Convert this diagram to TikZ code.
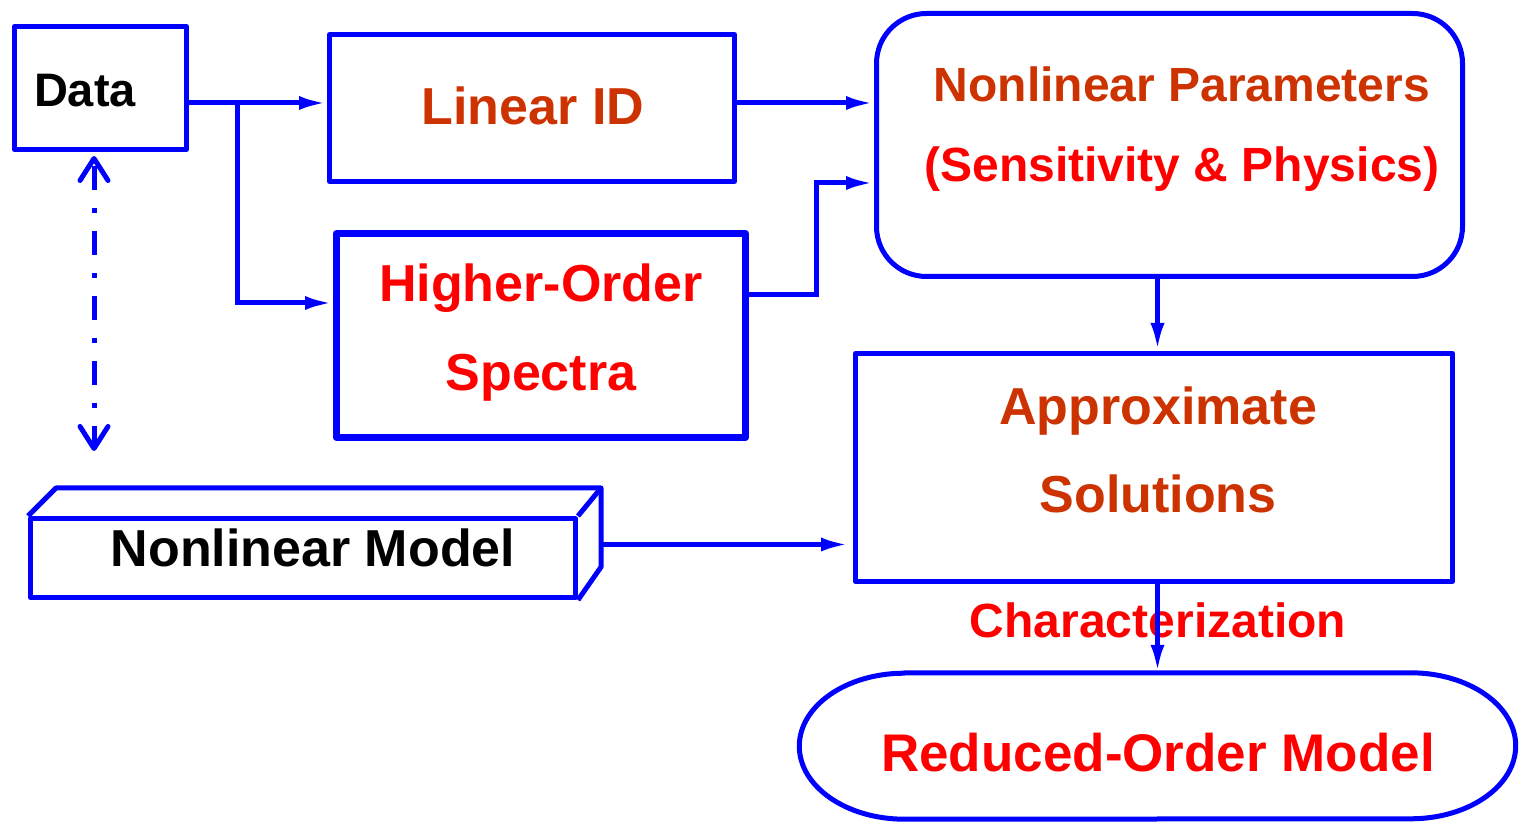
\documentclass[tikz,border=0pt]{standalone}
\usepackage{fontspec}
\setmainfont{Liberation Sans}
\usetikzlibrary{arrows.meta, calc}
\definecolor{flowblue}{RGB}{0,0,255}
\definecolor{rust}{RGB}{204,51,0}
\definecolor{brightred}{RGB}{255,0,0}
\newcommand{\fs}[1]{\fontsize{#1pt}{#1pt}\selectfont}
\tikzset{
  blkbox/.style={draw=flowblue, line width=5pt, inner sep=0pt, line join=round},
  outline/.style={draw=flowblue, line width=5pt, line join=round},
  flow/.style={draw=flowblue, line width=5pt, -{Latex[length=28pt,width=14pt]}},
  dashflow/.style={draw=flowblue, line width=5pt, dash pattern=on 24pt off 18pt on 5pt off 18pt, dash phase=60pt,
    {Straight Barb[length=22pt,width=28pt,round]}-{Straight Barb[length=22pt,width=28pt,round]}},
  lbl/.style={inner sep=0pt, anchor=base, font=\bfseries}
}
\begin{document}
\begin{tikzpicture}[x=1pt,y=1pt]
			\useasboundingbox (0,0) rectangle (1521,822);
			% boxes
			\node[blkbox, minimum width=172pt, minimum height=123pt] (data) at (100.5,734) {};
			\node[blkbox, minimum width=405pt, minimum height=147pt] (linid) at (532,714) {};
			\node[blkbox, line width=7pt, minimum width=409pt, minimum height=204pt] (hos) at (541,486.5) {};
			\node[blkbox, rounded corners=50pt, minimum width=586pt, minimum height=263pt] (nlp) at (1169.5,677) {};
			\node[blkbox, minimum width=597pt, minimum height=228pt] (approx) at (1154,354.5) {};
			\node[blkbox, minimum width=545pt, minimum height=79pt] (nm) at (303,264) {};
			\node[inner sep=0pt, minimum width=716pt, minimum height=146pt] (rom) at (1157.5,76) {};
			% depth of the model box
			\draw[outline] (nm.north west) -- ++(28,28) -- ++(545,0) coordinate (nmback) -- ++(0,-79) -- (nm.south east);
			\draw[outline] (nm.north east) -- (nmback);
			% stadium round the reduced model
			\draw[outline] ([xshift=105pt]rom.north west) -- ([xshift=-105pt]rom.north east)
				arc[start angle=90, end angle=-90, x radius=105, y radius=73]
				-- ([xshift=105pt]rom.south west)
				arc[start angle=270, end angle=90, x radius=105, y radius=73] -- cycle;
			% texts
			\node[lbl] (datalbl) at (85,715) {\fs{47}Data};
			\node[lbl, text=rust] (linidlbl) at (533,697) {\fs{52}Linear ID};
			\node[lbl, text=brightred] (hoslbla) at (541,520) {\fs{52}Higher-Order};
			\node[lbl, text=brightred] (hoslblb) at (541,431) {\fs{52}Spectra};
			\node[lbl, text=rust] (nlplbla) at (1182,720) {\fs{48}Nonlinear Parameters};
			\node[lbl, text=brightred] (nlplblb) at (1182,640) {\fs{48}(Sensitivity \& Physics)};
			\node[lbl, text=rust] (approxlbla) at (1158,397) {\fs{52}Approximate};
			\node[lbl, text=rust] (approxlblb) at (1158,309) {\fs{52}Solutions};
			\node[lbl] (nmlbl) at (313,255) {\fs{52}Nonlinear Model};
			\node[lbl, text=brightred] (charlbl) at (1158,184) {\fs{48}Characterization};
			\node[lbl, text=brightred] (romlbl) at (1158,50) {\fs{53}Reduced-Order Model};
			% connectors
			\coordinate (split) at (237,719);
			\coordinate (bend) at (816,639);
			\coordinate (nmout) at ($(nmback)+(0,-56.5)$);
			\coordinate (dtop) at (94,666);
			\coordinate (dbot) at (94,371);
			\draw[flow] (data.east |- split) -- (linid.west |- split);
			\draw[flow] (split) |- ([yshift=32.5pt]hos.west);
			\draw[flow] (linid.east |- split) -- (nlp.west |- split);
			\draw[flow] ([yshift=40.5pt]hos.east) -| (bend) -- (nlp.west |- bend);
			\draw[flow] (nlp.south -| rom.north) -- (approx.north -| rom.north);
			\draw[flow, shorten >=4pt] (nmout) -- (nmout -| approx.west);
			\draw[flow] (approx.south -| rom.north) -- (rom.north);
			\draw[dashflow] (dtop) -- (dbot);
		\end{tikzpicture}
\end{document}
